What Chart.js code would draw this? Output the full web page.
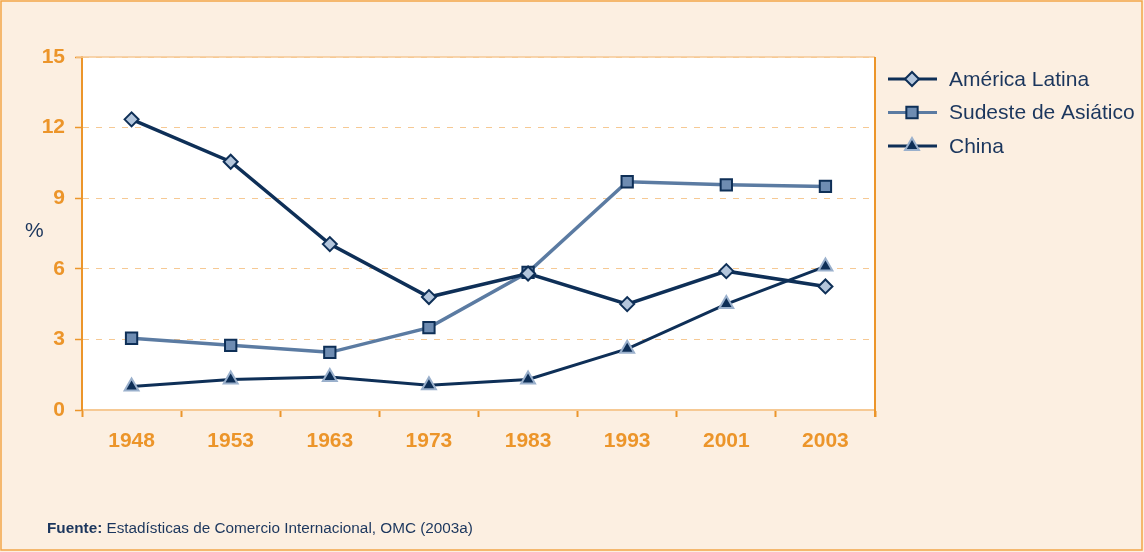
<!DOCTYPE html>
<html>
<head>
<meta charset="utf-8">
<script src="https://cdn.jsdelivr.net/npm/chart.js"></script>
<style>
  html, body { margin: 0; padding: 0; background: #FCEFE1; }
  #wrap { position: relative; width: 1144px; height: 552px; }
  #pct { position: absolute; left: 25px; top: 218px; font: 21px 'Liberation Sans', Arial, sans-serif; color: #1B365D; }
  #fuente { position: absolute; left: 47px; top: 519px; font: 15.3px 'Liberation Sans', Arial, sans-serif; color: #1B365D; }
  #fuente b { font-weight: bold; }
</style>
</head>
<body>
<div id="wrap">
  <canvas id="chart" width="1144" height="552"></canvas>
  <div id="pct">%</div>
  <div id="fuente"><b>Fuente:</b> Estadísticas de Comercio Internacional, OMC (2003a)</div>
</div>
<script>
// data
var years = ["1948", "1953", "1963", "1973", "1983", "1993", "2001", "2003"];
var americaLatina = [12.35, 10.55, 7.05, 4.8, 5.8, 4.5, 5.9, 5.25];
var sudesteAsiatico = [3.05, 2.75, 2.45, 3.5, 5.85, 9.7, 9.57, 9.5];
var china = [1.0, 1.3, 1.4, 1.05, 1.3, 2.6, 4.5, 6.1];
var seriesNames = ["América Latina", "Sudeste de Asiático", "China"];
var yTicks = [0, 3, 6, 9, 12, 15];

var navy = '#0E2F57';
var orange = '#EC952A';
var lightOrange = '#F6C994';
var tickFont = { family: "'Liberation Sans', Arial, sans-serif", size: 21, weight: 'bold' };

// background, frame and legend
var decor = {
  id: 'decor',
  beforeDraw: function(chart) {
    var c = chart.ctx, a = chart.chartArea;
    c.save();
    c.fillStyle = '#FCEFE1';
    c.fillRect(0, 0, chart.width, chart.height);
    c.strokeStyle = '#F2A648';
    c.lineWidth = 1.5;
    c.strokeRect(1, 1, chart.width - 3, chart.height - 3);
    c.fillStyle = '#FFFFFF';
    c.fillRect(a.left, a.top, a.right - a.left, a.bottom - a.top);
    c.restore();
  },
  afterDatasetsDraw: function(chart) {
    var c = chart.ctx, a = chart.chartArea;
    c.save();
    c.strokeStyle = lightOrange;
    c.lineWidth = 1.5;
    c.beginPath();
    c.moveTo(a.left - 6, a.top);
    c.lineTo(a.right, a.top);
    c.stroke();
    c.strokeStyle = orange;
    c.lineWidth = 2;
    c.beginPath();
    c.moveTo(a.right, a.top);
    c.lineTo(a.right, a.bottom + 7);
    c.stroke();

    // legend
    chart.data.datasets.forEach(function(ds, i) {
      var y = 79 + i * 33.5;
      c.strokeStyle = ds.borderColor;
      c.lineWidth = 3;
      c.beginPath();
      c.moveTo(888, y);
      c.lineTo(937, y);
      c.stroke();
      c.fillStyle = ds.pointBackgroundColor;
      c.strokeStyle = ds.pointBorderColor;
      c.lineWidth = ds.pointBorderWidth;
      Chart.helpers.drawPoint(c, {
        pointStyle: ds.pointStyle, radius: ds.pointRadius,
        rotation: 0, borderWidth: ds.pointBorderWidth
      }, 912, y);
      c.fillStyle = '#1B365D';
      c.font = '21px "Liberation Sans", Arial, sans-serif';
      c.textBaseline = 'middle';
      c.fillText(ds.label, 949, y + 1);
    });
    c.restore();
  }
};

var ctx = document.getElementById('chart').getContext('2d');
var chart = new Chart(ctx, {
  type: 'line',
  data: {
    labels: years,
    datasets: [{
      label: seriesNames[0],
      data: americaLatina,
      borderColor: navy,
      borderWidth: 3.5,
      pointStyle: 'rectRot',
      pointRadius: 7,
      pointBackgroundColor: '#B4C6DC',
      pointBorderColor: navy,
      pointBorderWidth: 2
    }, {
      label: seriesNames[1],
      data: sudesteAsiatico,
      borderColor: '#5B7BA2',
      borderWidth: 3.5,
      pointStyle: 'rect',
      pointRadius: 8,
      pointBackgroundColor: '#6E8CB2',
      pointBorderColor: navy,
      pointBorderWidth: 2
    }, {
      label: seriesNames[2],
      data: china,
      borderColor: navy,
      borderWidth: 3,
      pointStyle: 'triangle',
      pointRadius: 8,
      pointBackgroundColor: navy,
      pointBorderColor: '#9AB0CC',
      pointBorderWidth: 2
    }]
  },
  options: {
    responsive: false,
    animation: false,
    layout: { padding: { left: 0, top: 57, right: 269, bottom: 0 } },
    plugins: { legend: { display: false }, tooltip: { enabled: false } },
    elements: { line: { tension: 0 } },
    scales: {
      x: {
        offset: true,
        grid: { offset: true, drawOnChartArea: false, tickLength: 7, tickColor: orange, tickWidth: 2 },
        border: { color: lightOrange, width: 2 },
        ticks: { color: orange, padding: 12, font: tickFont },
        afterFit: function(s) { s.height = 142; }
      },
      y: {
        min: 0, max: 15,
        afterBuildTicks: function(s) { s.ticks = yTicks.map(function(v) { return { value: v }; }); },
        grid: { color: lightOrange, lineWidth: 1, tickLength: 7, tickColor: orange, tickWidth: 1.5, tickBorderDash: [] },
        border: { color: orange, width: 2, dash: [6, 7] },
        ticks: { color: orange, padding: 10, font: tickFont },
        afterFit: function(s) { s.width = 82; }
      }
    }
  },
  plugins: [decor]
});
</script>
</body>
</html>
